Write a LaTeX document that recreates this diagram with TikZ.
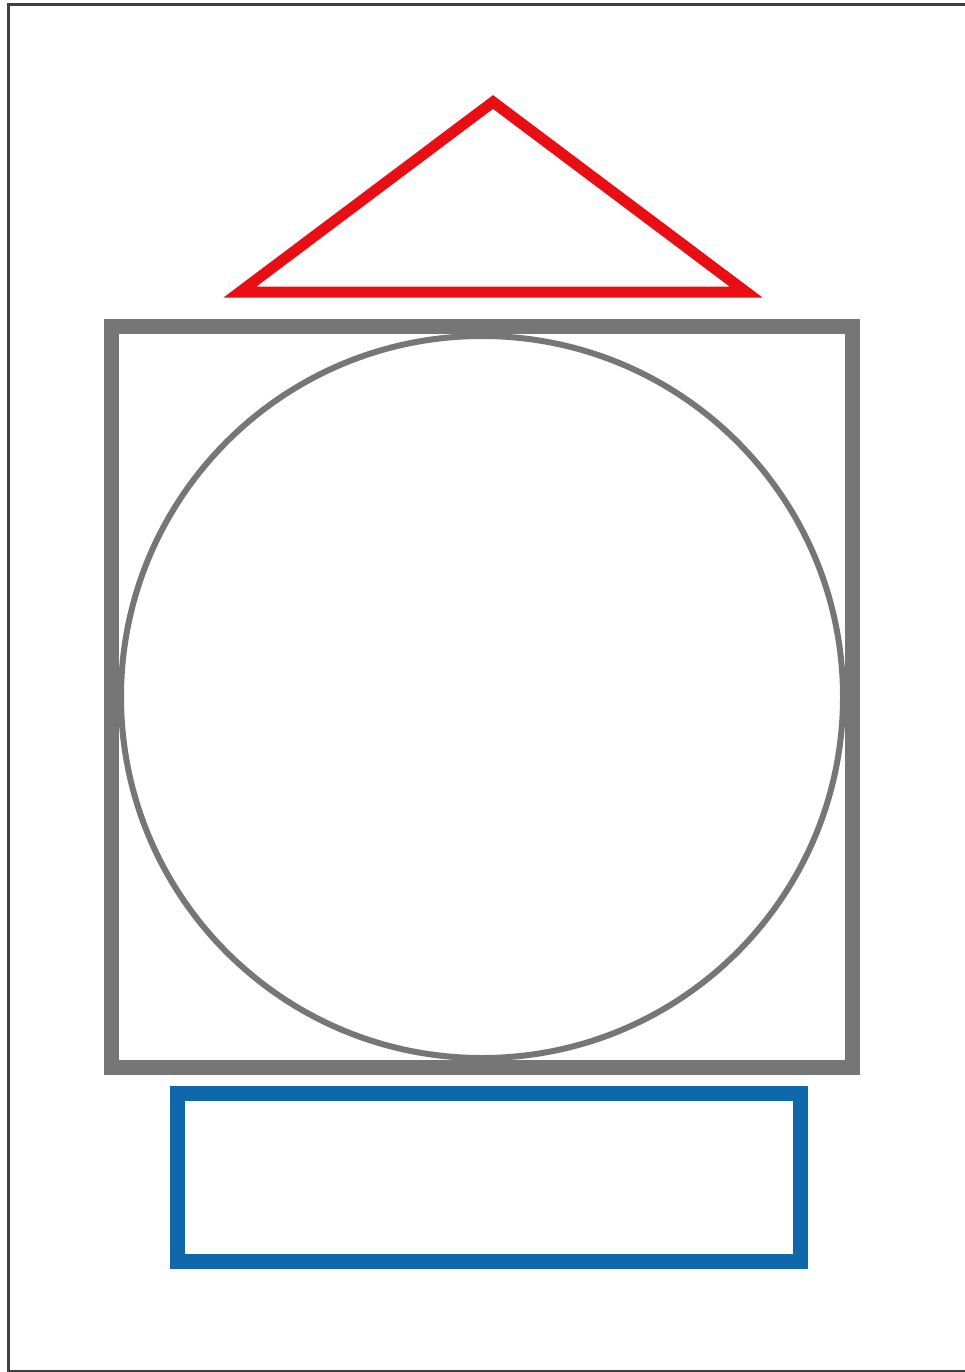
\documentclass[tikz,border=0pt]{standalone}
\usepackage{tikz}
\definecolor{roofred}{RGB}{232,14,20}
\definecolor{bodygray}{RGB}{118,118,118}
\definecolor{baseblue}{RGB}{16,104,172}
\definecolor{framegray}{RGB}{64,64,64}
\tikzset{
  roof/.style={draw=roofred, line width=11pt, line join=miter},
  body/.style={draw=bodygray, line width=15pt, minimum size=741pt, inner sep=0pt},
  wheel/.style={draw=bodygray, line width=6pt, circle, minimum size=722pt, inner sep=0pt},
  plinth/.style={draw=baseblue, line width=15pt, minimum width=623pt, minimum height=168pt, inner sep=0pt}
}

\begin{document}
\begin{tikzpicture}[x=1pt, y=-1pt]
\useasboundingbox (0,0) rectangle (965,1372);
\clip (0,0) rectangle (965,1372);
\draw[framegray, line width=3pt] (8.5,4.5) rectangle (975,1371);
% roof
\coordinate (tl) at (240,292); \coordinate (tt) at (493,102); \coordinate (tr) at (746,292);
\draw[roof] (tl) -- (tt) -- (tr) -- cycle;
% body and wheel
\node[body] (sq) at (482,697) {};
\node[wheel] (c) at (sq.center) {};
% base
\node[plinth] (bs) at (489,1177.5) {};
\end{tikzpicture}
\end{document}
